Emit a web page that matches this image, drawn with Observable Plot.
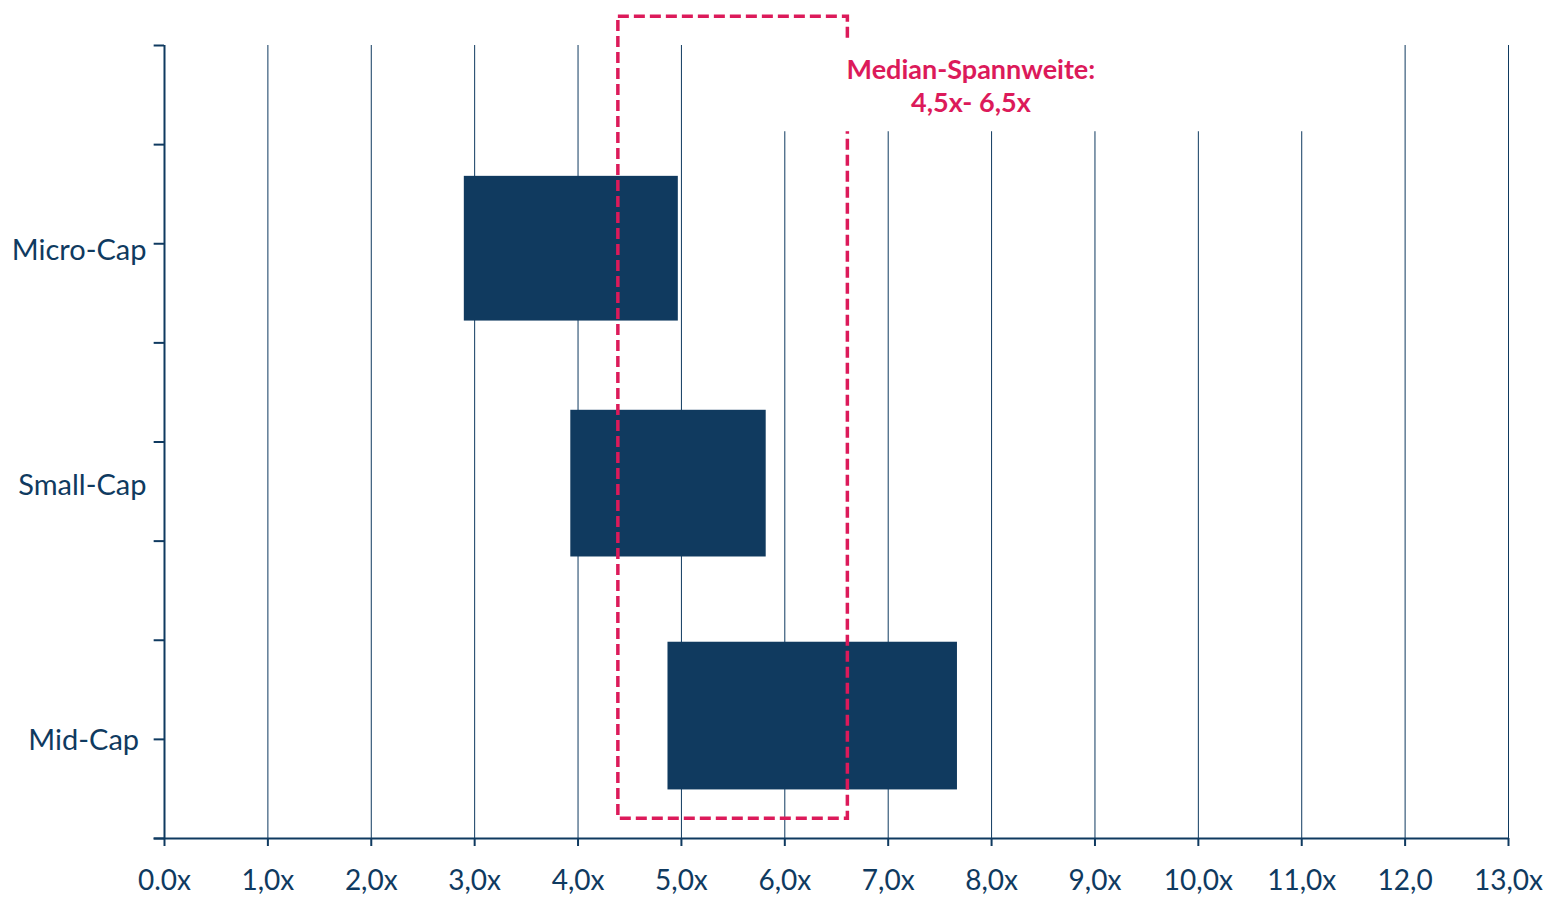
<!DOCTYPE html>
<html>
<head>
<meta charset="utf-8">
<script src="https://cdn.jsdelivr.net/npm/d3@7"></script>
<script src="https://cdn.jsdelivr.net/npm/@observablehq/plot@0.6"></script>
<style>
  html, body { margin: 0; padding: 0; background: #fff; }
  #chart svg { display: block; }
</style>
</head>
<body>
<div id="chart"></div>
<script>
// Categories and their label positions on the (linear) vertical scale
const categories = ["Micro-Cap", "Small-Cap", "Mid-Cap\u00a0"];
const categoryY = [5.93, 3.56, 0.99];

// Multiple ranges (low/high) per category
const rangeLow = [2.90, 3.93, 4.87];
const rangeHigh = [4.97, 5.82, 7.67];
const barTop = [6.68, 4.32, 1.98];
const barBottom = [5.22, 2.84, 0.49];

// X tick values and labels
const xTicks = [0,1,2,3,4,5,6,7,8,9,10,11,12,13];
const xTickLabels = ["0.0x","1,0x","2,0x","3,0x","4,0x","5,0x","6,0x","7,0x","8,0x","9,0x","10,0x","11,0x","12,0","13,0x"];
const yTicks = [0,1,2,3,4,5,6,7,8];

// Median range annotation box
const medianLow = [4.39];
const medianHigh = [6.61];
const medianBoxTop = [8.29];
const medianBoxBottom = [0.2];
const annotationLines = ["Median-Spannweite:", "4,5x- 6,5x"];
const annotationX = 7.8;
const annotationY = [7.75, 7.42];

const navy = "#0f3a60";
const pink = "#dc1a5a";

const bars = categories.map((c, i) => ({c, x1: rangeLow[i], x2: rangeHigh[i], y1: barBottom[i], y2: barTop[i]}));
const box = medianLow.map((l, i) => ({x1: l, x2: medianHigh[i], y1: medianBoxBottom[i], y2: medianBoxTop[i]}));
const ann = annotationLines.map((t, i) => ({t, y: annotationY[i]}));

const chart = Plot.plot({
  width: 1548,
  height: 897,
  marginLeft: 164,
  marginRight: 40,
  marginTop: 45,
  marginBottom: 59,
  style: {fontFamily: "Lato, 'Open Sans', sans-serif", background: "#fff", overflow: "visible"},
  x: {type: "linear", domain: [0, 13]},
  y: {type: "linear", domain: [0, 8]},
  marks: [
    Plot.ruleX(xTicks.slice(1), {x: d => d, y1: 0, y2: 8, stroke: navy, strokeWidth: 1}),
    // white background behind annotation text
    Plot.rect([{x1: 5.55, x2: 11.5, y1: 7.13, y2: 8.07}], {x1: "x1", x2: "x2", y1: "y1", y2: "y2", fill: "white"}),
    Plot.rect(bars, {x1: "x1", x2: "x2", y1: "y1", y2: "y2", fill: "#103a5f"}),
    Plot.rect(box, {x1: "x1", x2: "x2", y1: "y1", y2: "y2", fill: "none", stroke: pink, strokeWidth: 3.5, strokeDasharray: "11,5"}),
    Plot.rect([{x1: 6.45, x2: 6.8, y1: 7.13, y2: 8.07}], {x1: "x1", x2: "x2", y1: "y1", y2: "y2", fill: "white"}),
    Plot.text(ann, {x: annotationX, y: "y", text: "t", fill: pink, fontWeight: "bold", fontSize: 27, textAnchor: "middle"}),
    // axes
    Plot.ruleX([0], {x: d => d, y1: 0, y2: 8, stroke: navy, strokeWidth: 2}),
    Plot.ruleY([0], {y: d => d, x1: -0.1, x2: 13, stroke: navy, strokeWidth: 2}),
    Plot.ruleY(yTicks, {y: d => d, x1: -0.1, x2: 0, stroke: navy, strokeWidth: 2}),
    Plot.axisX({ticks: xTicks, tickSize: 8, tickFormat: (d) => xTickLabels[xTicks.indexOf(d)], stroke: navy, fill: navy, fontSize: 28, tickPadding: 24, label: null, strokeWidth: 2}),
    Plot.axisY({ticks: categoryY, tickSize: 0, tickFormat: (d) => categories[categoryY.indexOf(d)], fill: navy, fontSize: 29, tickPadding: 18, label: null})
  ]
});
document.getElementById("chart").append(chart);
</script>
</body>
</html>
